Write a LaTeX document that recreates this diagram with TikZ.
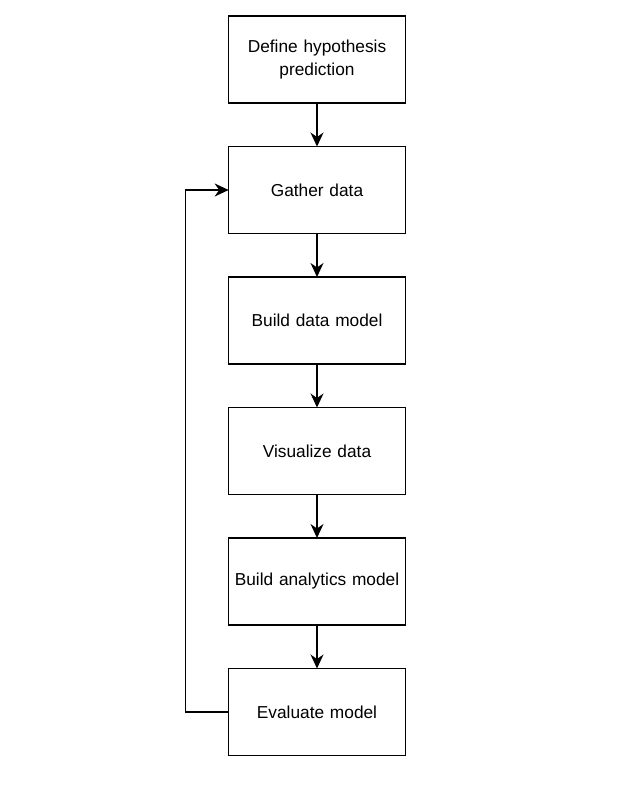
\documentclass[tikz,border=0pt]{standalone}
\usepackage{fontspec}
\setmainfont{Liberation Sans}
\usepackage{tikz}
\usetikzlibrary{arrows.meta, positioning}

\begin{document}
\begin{tikzpicture}[
  box/.style={rectangle, draw, line width=1.5pt, outer sep=0pt, minimum width=174pt, minimum height=87pt, text width=170pt, align=center, font=\fontsize{17.3}{22.5}\selectfont},
  arr/.style={-{Stealth[length=14pt, width=13pt, inset=4.5pt]}, line width=1.5pt},
]
\useasboundingbox (0,0) rectangle (617pt,-805pt);

% === Main column ===
\node[box] (hyp) at (317pt,-59.5pt) {Define hypothesis\\prediction};
\node[box, below=43.5pt of hyp] (gather) {Gather data};
\node[box, below=43.5pt of gather] (datamodel) {Build data model};
\node[box, below=43.5pt of datamodel] (visual) {Visualize data};
\node[box, below=43.5pt of visual] (analytics) {Build analytics model};
\node[box, below=43.5pt of analytics] (evalm) {Evaluate model};

% === Arrows ===
\draw[arr] (hyp) -- (gather);
\draw[arr] (gather) -- (datamodel);
\draw[arr] (datamodel) -- (visual);
\draw[arr] (visual) -- (analytics);
\draw[arr] (analytics) -- (evalm);

% Feedback loop back to data gathering (routed on the left)
\draw[arr] (evalm.west) -- ++(-43pt,0) |- (gather.west);
\end{tikzpicture}
\end{document}
